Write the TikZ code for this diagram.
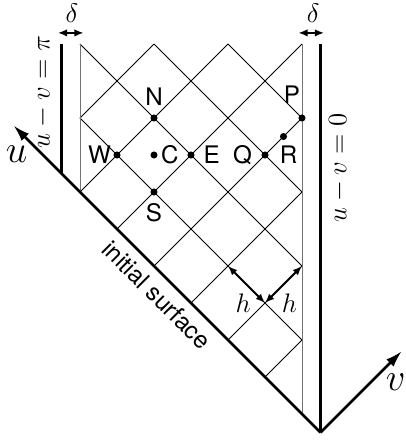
\documentclass[tikz,border=0pt]{standalone}
\usepackage{fontspec}
\setsansfont{TeX Gyre Heros}
\usepackage{tikz}
\usetikzlibrary{arrows.meta, positioning}

\begin{document}
\begin{tikzpicture}[
    x=0.7cm, y=0.7cm,
    gridline/.style={line width=0.5pt, black},
    edgeline/.style={line width=0.5pt, black!55},
    axisline/.style={line width=1.4pt, black},
    gridpt/.style={circle, fill=black, inner sep=0pt, minimum size=3.8pt},
    lbl/.style={font=\sffamily\fontsize{13}{15}\selectfont, inner sep=1pt},
    mlbl/.style={font=\Large, inner sep=1pt},
    dimarrow/.style={{Latex[length=5pt, width=4pt]}-{Latex[length=5pt, width=4pt]}, line width=1pt},
    axisarrow/.style={-{Latex[length=9pt, width=5.5pt]}, axisline}
]
\useasboundingbox (-2.162,1.189) rectangle (8.784,-10.703);

% corners and axis ends
\coordinate (apex) at (6.5,-10.5);
\coordinate (utip) at (-1.8,-2.2);
\coordinate (vtip) at (8.7,-8.3);

% grid lines (characteristics)
\foreach \sx/\sy/\ex/\ey in {4/0/6/-2, 2/0/6/-4, 0/0/6/-6, 0/-2/6/-8,
                             2/0/0/-2, 4/0/0/-4, 6/0/1/-5, 6/-2/2/-6,
                             6/-4/3/-7, 6/-6/4/-8, 6/-8/5/-9}
    \draw[gridline] (\sx,\sy) -- (\ex,\ey);

% boundaries
\draw[edgeline] (0,0) -- (0,-4);
\draw[edgeline] (6,0) -- (6,-10);
\draw[axisline] (-0.5,0) -- (-0.5,-3.5);
\draw[axisline] (6.5,0) -- (apex);
\draw[axisarrow] (apex) -- (utip);
\draw[axisarrow] (apex) -- (vtip);

\node[font=\huge, inner sep=0pt] (ulbl) at (-1.71,-2.97) {$u$};
\node[font=\huge, inner sep=0pt] (vlbl) at (8.53,-9.15) {$v$};
\node[font=\Large, rotate=90] (bndpi) at (-1.0,-1.3) {$u-v=\pi$};
\node[font=\Large, rotate=90] (bndzero) at (7.0,-3.35) {$u-v=0$};
\node[lbl, rotate=-45] (init) at (2.08,-6.78) {initial surface};

% delta widths
\coordinate (dl1) at (-0.6,0.3);
\coordinate (dl2) at (0.1,0.3);
\coordinate (dr1) at (5.9,0.3);
\coordinate (dr2) at (6.6,0.3);
\draw[dimarrow] (dl1) -- (dl2);
\draw[dimarrow] (dr1) -- (dr2);
\node[mlbl] (deltaL) at (-0.22,0.82) {$\delta$};
\node[mlbl] (deltaR) at (6.3,0.82) {$\delta$};

% stencil points
\node[gridpt] (N) at (2,-2) {};
\node[gridpt] (W) at (1,-3) {};
\node[gridpt] (C) at (2,-3) {};
\node[gridpt] (E) at (3,-3) {};
\node[gridpt] (S) at (2,-4) {};
\node[gridpt] (Q) at (5,-3) {};
\node[gridpt] (R) at (5.5,-2.5) {};
\node[gridpt] (P) at (6,-2) {};

\node[lbl, above=3.6pt of N] (Nl) {N};
\node[lbl, left=0pt of W] (Wl) {W};
\node[lbl, right=0.5pt of C] (Cl) {C};
\node[lbl, right=3.5pt of E] (El) {E};
\node[lbl, below=3pt of S] (Sl) {S};
\node[lbl, left=3.8pt of Q] (Ql) {Q};
\node[lbl, below=1.8pt of R, xshift=2.7pt] (Rl) {R};
\node[lbl, above=4.7pt of P, xshift=-5.4pt] (Pl) {P};

% step size h
\coordinate (h1) at (4,-6);
\coordinate (h2) at (5,-7);
\coordinate (h3) at (6,-6);
\draw[dimarrow] (h1) -- (h2);
\draw[dimarrow] (h2) -- (h3);
\node[mlbl] (hl) at (4.41,-7.0) {$h$};
\node[mlbl] (hr) at (5.66,-7.0) {$h$};

\end{tikzpicture}
\end{document}
